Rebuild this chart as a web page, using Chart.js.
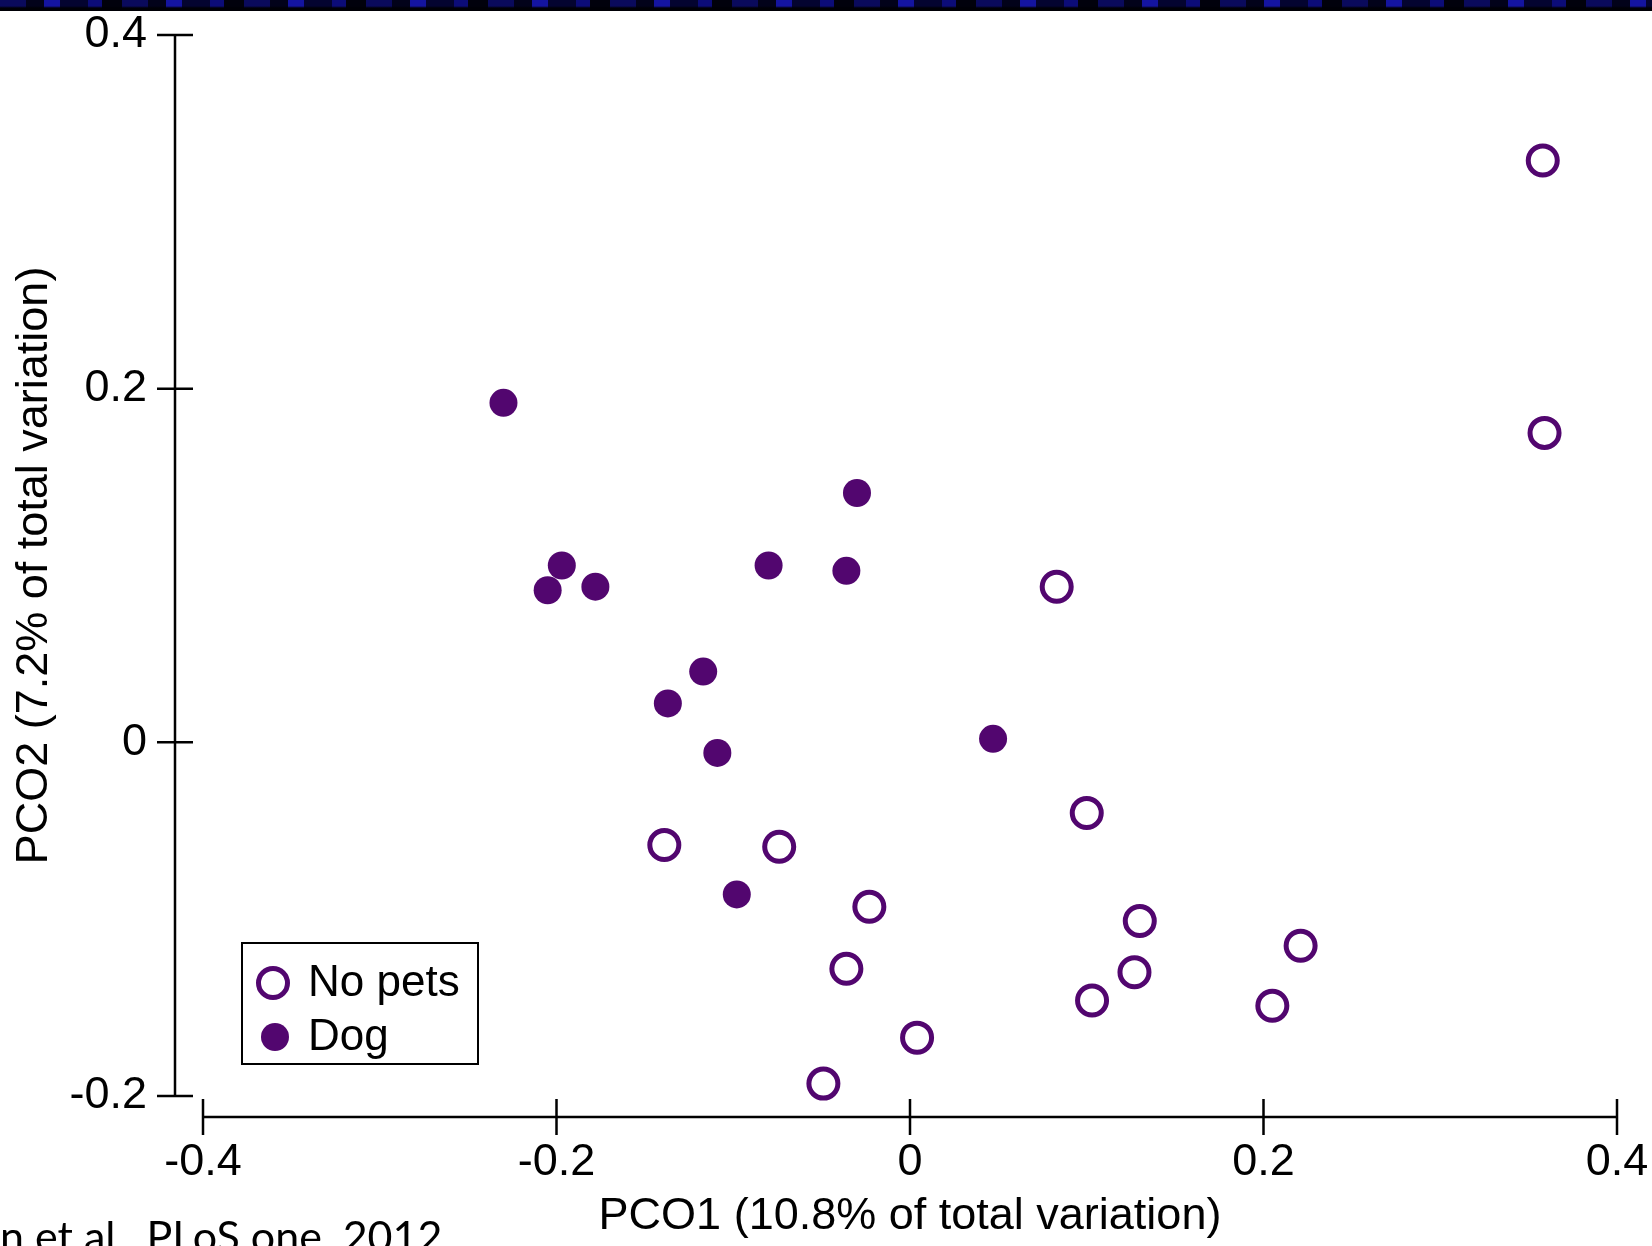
<!DOCTYPE html>
<html>
<head>
<meta charset="utf-8">
<script src="https://cdn.jsdelivr.net/npm/chart.js@4.4.0/dist/chart.umd.min.js"></script>
<style>
  body { margin: 0; background: #fff; }
  #wrap { position: relative; width: 1652px; height: 1246px; overflow: hidden; }
  #band {
    position: absolute; left: 0; top: 0; width: 1652px; height: 11px; z-index: 2;
    background:
      linear-gradient(to bottom, rgba(0,0,0,0) 0, rgba(0,0,0,0) 6px, #000006 8px, #000006 11px),
      repeating-linear-gradient(90deg, #0a0a5c 0 26px, #02021a 26px 44px, #1414a0 44px 60px, #040430 60px 88px, #0c0c78 88px 102px, #01010c 102px 122px);
  }
  #cite {
    position: absolute; left: 0; top: 1214px; z-index: 2;
    font-family: Lato, "Open Sans", sans-serif; font-size: 43px; line-height: 1; color: #000;
    white-space: nowrap;
  }
</style>
</head>
<body>
<div id="wrap">
  <div id="band"></div>
  <canvas id="pcoChart"></canvas>
  <div id="cite">n et al., PLoS one, 2012</div>
</div>
<script>
// ejes y etiquetas
var xTicks = [-0.4, -0.2, 0, 0.2, 0.4];
var yTicks = [-0.2, 0, 0.2, 0.4];
var xTitle = 'PCO1 (10.8% of total variation)';
var yTitle = 'PCO2 (7.2% of total variation)';

// datos (PCO1, PCO2)
var noPetsPco1 = [0.358, 0.359, 0.083, 0.100, -0.139, -0.074, -0.023, -0.036, 0.004, -0.049, 0.130, 0.127, 0.103, 0.221, 0.205];
var noPetsPco2 = [0.329, 0.175, 0.088, -0.040, -0.058, -0.059, -0.093, -0.128, -0.167, -0.193, -0.101, -0.130, -0.146, -0.115, -0.149];
var dogPco1 = [-0.230, -0.030, -0.197, -0.205, -0.178, -0.080, -0.036, -0.117, -0.137, -0.109, 0.047, -0.098];
var dogPco2 = [0.192, 0.141, 0.100, 0.086, 0.088, 0.100, 0.097, 0.040, 0.022, -0.006, 0.002, -0.086];

var purple = '#52066f';
var fontFamily = '"Liberation Sans", Arial, sans-serif';

function toPoints(xs, ys) {
    return xs.map(function (v, i) { return { x: v, y: ys[i] }; });
}

function fmt(v) {
    return String(Number(v.toFixed(1)));
}

// lineas de ejes separadas, marcas cruzadas y leyenda en recuadro
var axisPlugin = {
    id: 'axisLines',
    afterDraw: function (chart) {
        var ctx = chart.ctx;
        var x = chart.scales.x, y = chart.scales.y;
        var ax = x.getPixelForValue(xTicks[0]) - 28;
        var ay = y.getPixelForValue(yTicks[0]) + 21;
        ctx.save();
        ctx.strokeStyle = '#000';
        ctx.lineWidth = 2.5;
        ctx.beginPath();
        ctx.moveTo(ax, y.getPixelForValue(yTicks[yTicks.length - 1]));
        ctx.lineTo(ax, y.getPixelForValue(yTicks[0]));
        yTicks.forEach(function (v) {
            var p = y.getPixelForValue(v);
            ctx.moveTo(ax - 18, p);
            ctx.lineTo(ax + 18, p);
        });
        ctx.moveTo(x.getPixelForValue(xTicks[0]), ay);
        ctx.lineTo(x.getPixelForValue(xTicks[xTicks.length - 1]), ay);
        xTicks.forEach(function (v) {
            var p = x.getPixelForValue(v);
            ctx.moveTo(p, ay - 18);
            ctx.lineTo(p, ay + 18);
        });
        ctx.stroke();

        // leyenda
        var lx = 242, ly = 943, lw = 236, lh = 121;
        ctx.fillStyle = '#fff';
        ctx.fillRect(lx, ly, lw, lh);
        ctx.lineWidth = 2;
        ctx.strokeRect(lx, ly, lw, lh);
        chart.data.datasets.forEach(function (ds, i) {
            var cy = ly + 40 + i * 54;
            var cx = lx + 31 + i * 2;
            ctx.beginPath();
            ctx.arc(cx, cy, ds.pointRadius, 0, Math.PI * 2);
            if (ds.borderWidth > 0) {
                ctx.fillStyle = '#fff';
                ctx.fill();
                ctx.lineWidth = ds.borderWidth;
                ctx.strokeStyle = ds.borderColor;
                ctx.stroke();
            } else {
                ctx.fillStyle = ds.backgroundColor;
                ctx.fill();
            }
            ctx.fillStyle = '#000';
            ctx.font = '44px ' + fontFamily;
            ctx.textBaseline = 'middle';
            ctx.textAlign = 'left';
            ctx.fillText(ds.label, lx + 66, cy + 1);
        });
        ctx.restore();
    }
};

var ctx = document.getElementById('pcoChart').getContext('2d');
var pcoChart = new Chart(ctx, {
    type: 'scatter',
    data: {
        datasets: [{
            label: 'No pets',
            data: toPoints(noPetsPco1, noPetsPco2),
            backgroundColor: 'rgba(255,255,255,0)',
            borderColor: purple,
            borderWidth: 5,
            pointRadius: 14.5,
            pointHoverRadius: 14.5,
            clip: false
        }, {
            label: 'Dog',
            data: toPoints(dogPco1, dogPco2),
            backgroundColor: purple,
            borderColor: purple,
            borderWidth: 0,
            pointRadius: 14,
            pointHoverRadius: 14,
            clip: false
        }]
    },
    options: {
        responsive: true,
        maintainAspectRatio: false,
        animation: false,
        layout: { padding: { top: 35, right: 35, left: 0, bottom: 0 } },
        plugins: {
            legend: { display: false },
            tooltip: { enabled: false }
        },
        scales: {
            x: {
                type: 'linear',
                min: xTicks[0],
                max: xTicks[xTicks.length - 1],
                afterBuildTicks: function (scale) {
                    scale.ticks = xTicks.map(function (v) { return { value: v }; });
                },
                afterFit: function (scale) { scale.height = 150; },
                grid: { display: false, drawTicks: true, tickLength: 37 },
                border: { display: false },
                ticks: {
                    padding: 3,
                    color: '#000',
                    font: { family: fontFamily, size: 45 },
                    maxRotation: 0,
                    callback: function (v) { return fmt(v); }
                },
                title: {
                    display: true,
                    text: xTitle,
                    color: '#000',
                    font: { family: fontFamily, size: 45 },
                    padding: { top: 0, bottom: 2 }
                }
            },
            y: {
                type: 'linear',
                min: yTicks[0],
                max: yTicks[yTicks.length - 1],
                afterBuildTicks: function (scale) {
                    scale.ticks = yTicks.map(function (v) { return { value: v }; });
                },
                afterFit: function (scale) { scale.width = 203; },
                grid: { display: false, drawTicks: true, tickLength: 53 },
                border: { display: false },
                ticks: {
                    padding: 3,
                    color: '#000',
                    font: { family: fontFamily, size: 45 },
                    callback: function (v) { return fmt(v); }
                },
                title: {
                    display: true,
                    text: yTitle,
                    color: '#000',
                    font: { family: fontFamily, size: 45 },
                    padding: { top: 8, bottom: 0 }
                }
            }
        }
    },
    plugins: [axisPlugin]
});
</script>
</body>
</html>
